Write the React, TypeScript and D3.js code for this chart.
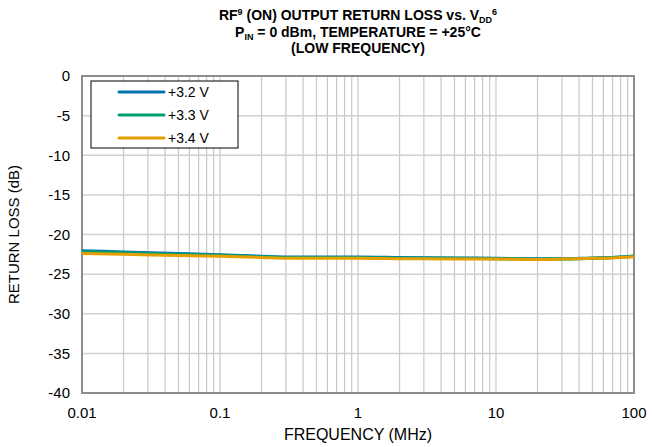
import React from "react";
import * as d3 from "d3";

const freqs = [0.01, 0.02, 0.05, 0.1, 0.2, 0.3, 0.5, 1, 2, 5, 10, 20, 30, 50, 70, 100];
const v32 = [-22.05, -22.2, -22.4, -22.55, -22.75, -22.85, -22.85, -22.85, -22.9, -22.95, -23.0, -23.05, -23.05, -22.95, -22.9, -22.75];
const v33 = [-22.15, -22.3, -22.48, -22.62, -22.8, -22.9, -22.9, -22.9, -22.95, -23.0, -23.05, -23.1, -23.1, -23.0, -22.9, -22.7];
const v34 = [-22.4, -22.5, -22.65, -22.75, -22.9, -23.0, -23.0, -23.0, -23.05, -23.1, -23.1, -23.15, -23.1, -23.0, -22.95, -22.8];
const seriesNames = ["+3.2 V", "+3.3 V", "+3.4 V"];
const seriesColors = ["#0072b2", "#009e73", "#e69f00"];
const yTicks = [0, -5, -10, -15, -20, -25, -30, -35, -40];
const xTicks = [0.01, 0.1, 1, 10, 100];

export default function App() {
  const W = 652, H = 447;
  const L = 82, R = 634, T = 76, B = 393;
  const x = d3.scaleLog().domain([0.01, 100]).range([L, R]);
  const y = d3.scaleLinear().domain([-40, 0]).range([B, T]);
  const minor: number[] = [];
  for (let dec = 0.01; dec < 100; dec *= 10) {
    for (let k = 2; k <= 9; k++) minor.push(+(dec * k).toPrecision(3));
  }
  const all = [v32, v33, v34];
  const line = d3.line<number>().x((_, i) => x(freqs[i])).y((v) => y(v)).curve(d3.curveMonotoneX);
  const font = "Arial, 'Liberation Sans', sans-serif";
  return (
    <svg width={W} height={H} style={{ position: "absolute", left: 0, top: 0 }} fontFamily={font}>
      <rect x={0} y={0} width={W} height={H} fill="#fff" />
      {minor.map((f) => (
        <line key={"m" + f} x1={x(f)} x2={x(f)} y1={T} y2={B} stroke="#c8c8c8" strokeWidth={1.2} />
      ))}
      {xTicks.map((f) => (
        <line key={"M" + f} x1={x(f)} x2={x(f)} y1={T} y2={B} stroke="#c8c8c8" strokeWidth={1.2} />
      ))}
      {yTicks.map((v) => (
        <line key={"h" + v} x1={L} x2={R} y1={y(v)} y2={y(v)} stroke="#d0d0d0" strokeWidth={1.5} />
      ))}
      <rect x={L} y={T} width={R - L} height={B - T} fill="none" stroke="#8c8c8c" strokeWidth={2} />
      {all.map((s, i) => (
        <path key={i} d={line(s) || ""} fill="none" stroke={seriesColors[i]} strokeWidth={3} />
      ))}
      {yTicks.map((v) => (
        <text key={"yt" + v} x={L - 12} y={y(v)} dy="0.35em" textAnchor="end" fontSize={15}>{v}</text>
      ))}
      {xTicks.map((f) => (
        <text key={"xt" + f} x={x(f)} y={B + 20} dy="0.35em" textAnchor="middle" fontSize={15}>{String(f)}</text>
      ))}
      <text x={(L + R) / 2} y={440} textAnchor="middle" fontSize={16}>FREQUENCY (MHz)</text>
      <text transform={`translate(19,${(T + B) / 2}) rotate(-90)`} textAnchor="middle" fontSize={15}>RETURN LOSS (dB)</text>
      <text x={(L + R) / 2} y={20} textAnchor="middle" fontSize={14} fontWeight="bold">
        RF<tspan fontSize={9} dy={-5}>9</tspan><tspan dy={5}> (ON) OUTPUT RETURN LOSS vs. V</tspan>
        <tspan fontSize={9} dy={3}>DD</tspan><tspan fontSize={9} dy={-8}>6</tspan>
      </text>
      <text x={(L + R) / 2} y={37} textAnchor="middle" fontSize={14} fontWeight="bold">
        P<tspan fontSize={9} dy={3}>IN</tspan><tspan dy={-3}> = 0 dBm, TEMPERATURE = +25°C</tspan>
      </text>
      <text x={(L + R) / 2} y={53} textAnchor="middle" fontSize={14} fontWeight="bold">(LOW FREQUENCY)</text>
      <rect x={91} y={81} width={147} height={67} fill="#fff" stroke="#000" strokeWidth={1} />
      {seriesNames.map((n, i) => (
        <g key={n}>
          <line x1={119} x2={164} y1={92 + i * 23} y2={92 + i * 23} stroke={seriesColors[i]} strokeWidth={3} strokeLinecap="round" />
          <text x={168} y={92 + i * 23} dy="0.35em" fontSize={14}>{n}</text>
        </g>
      ))}
    </svg>
  );
}
